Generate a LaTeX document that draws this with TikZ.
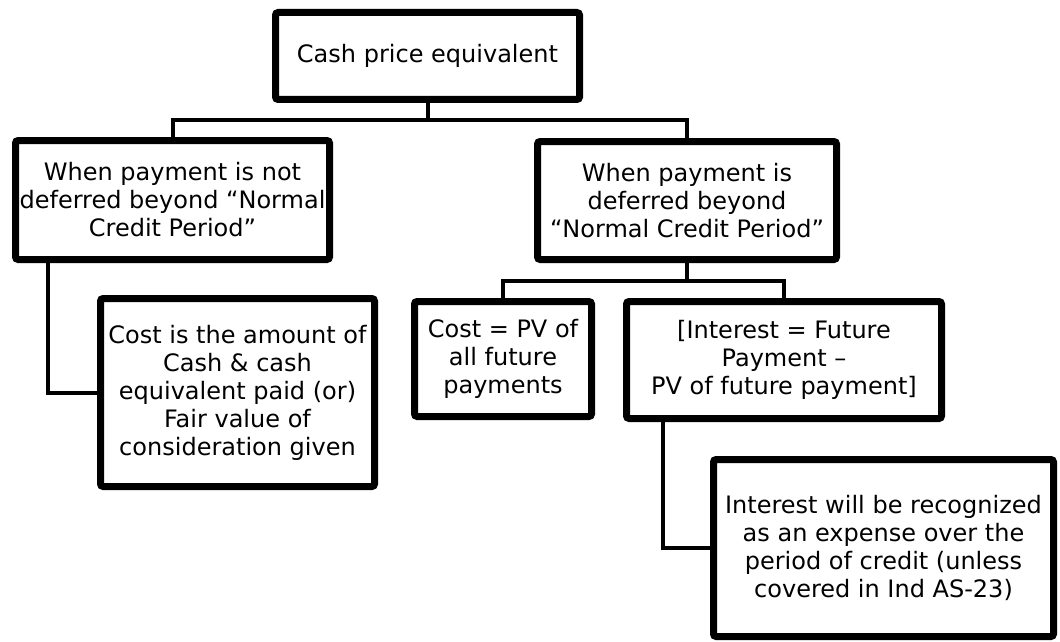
\documentclass[tikz,border=0pt]{standalone}
\usepackage{fontspec}
\setmainfont{DejaVu Sans}
\usetikzlibrary{shadows}

\begin{document}
\begin{tikzpicture}[x=0.75pt,y=0.75pt,yscale=-1,xscale=1,
	box/.style={draw, line width=5.25pt, rounded corners=2pt, fill=white, align=center, inner sep=0pt,
		font=\fontsize{18}{21}\selectfont, drop shadow={shadow xshift=1.2pt, shadow yshift=-1.2pt, opacity=0.3}},
	conn/.style={line width=3pt}]
		\useasboundingbox (0,0) rectangle (1060,642);
		% boxes
		\node (top) at (427.5,56) [box, minimum width=228pt, minimum height=65.25pt] {Cash price equivalent};
		\node (notdef) at (172.5,200) [box, minimum width=235.5pt, minimum height=89.25pt] {When payment is not\\deferred beyond “Normal\\Credit Period”};
		\node (def) at (687,200.5) [box, minimum width=224.25pt, minimum height=88.5pt] {When payment is\\deferred beyond\\“Normal Credit Period”};
		\node (costamt) at (237.5,392.5) [box, minimum width=205.5pt, minimum height=141pt] {Cost is the amount of\\Cash \& cash\\equivalent paid (or)\\Fair value of\\consideration given};
		\node (costpv) at (503,359) [box, minimum width=132.75pt, minimum height=86.25pt] {Cost = PV of\\all future\\payments};
		\node (interest) at (784,360) [box, minimum width=236.25pt, minimum height=87.75pt] {[Interest = Future\\Payment –\\PV of future payment]};
		\node (recog) at (883.5,548) [box, minimum width=255pt, minimum height=132.75pt] {Interest will be recognized\\as an expense over the\\period of credit (unless\\covered in Ind AS-23)};
		% connectors
		\coordinate (topbus) at (427.5,120);
		\coordinate (defbus) at (687,281);
		\draw [conn] (top) -- (topbus);
		\draw [conn] (notdef.north) |- (topbus) -| (def.north);
		\draw [conn] (def) -- (defbus);
		\draw [conn] (costpv.north) |- (defbus) -| (interest.north);
		\draw [conn] (48,0 |- notdef.south) |- (costamt.west);
		\draw [conn] (663,0 |- interest.south) |- (recog.west);
\end{tikzpicture}
\end{document}
